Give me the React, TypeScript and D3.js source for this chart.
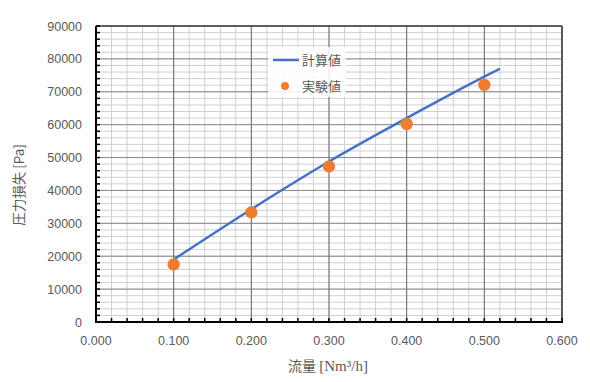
import React from "react";
import * as d3 from "d3";

const calcX = [0.1, 0.2, 0.3, 0.4, 0.5, 0.52];
const calcY = [19000, 34300, 48800, 62000, 74600, 77000];
const expX = [0.1, 0.2, 0.3, 0.4, 0.5];
const expY = [17500, 33300, 47300, 60200, 72100];
const xTicks = [0, 0.1, 0.2, 0.3, 0.4, 0.5, 0.6];
const yTicks = [0, 10000, 20000, 30000, 40000, 50000, 60000, 70000, 80000, 90000];
const legendLabels = ["計算値", "実験値"];

const W = 590, H = 382;
const m = { left: 96, right: 562, top: 26, bottom: 322 };

export default function App() {
  const x = d3.scaleLinear().domain([0, 0.6]).range([m.left, m.right]);
  const y = d3.scaleLinear().domain([0, 90000]).range([m.bottom, m.top]);
  const minorX = d3.range(0, 0.6001, 0.02);
  const minorY = d3.range(0, 90001, 2000);
  const line = d3.line<number>().x((_, i) => x(calcX[i])).y((d) => y(d)).curve(d3.curveMonotoneX);
  const gray = "#595959";
  const font = "'Liberation Sans', Arial, sans-serif";
  const jp = "'Noto Sans CJK JP', sans-serif";
  return (
    <svg width={W} height={H} style={{ position: "absolute", left: 0, top: 0 }}>
      <rect width={W} height={H} fill="#fff" />
      {minorX.map((v, i) => (
        <line key={"mx" + i} x1={x(v)} x2={x(v)} y1={m.top} y2={m.bottom} stroke="#d0d0d0" strokeWidth={1} />
      ))}
      {minorY.map((v, i) => (
        <line key={"my" + i} x1={m.left} x2={m.right} y1={y(v)} y2={y(v)} stroke="#d0d0d0" strokeWidth={1} />
      ))}
      {yTicks.map((v) => (
        <line key={"gy" + v} x1={m.left} x2={m.right} y1={y(v)} y2={y(v)} stroke="#8a8a8a" strokeWidth={1} />
      ))}
      {xTicks.map((v) => (
        <line key={"gx" + v} x1={x(v)} x2={x(v)} y1={m.top} y2={m.bottom} stroke="#6a6a6a" strokeWidth={1} />
      ))}
      <rect x={268} y={47} width={78} height={50} fill="#fff" opacity={0.85} />
      <line x1={m.left} x2={m.right} y1={m.top} y2={m.top} stroke="#404040" strokeWidth={1.5} />
      <line x1={m.right} x2={m.right} y1={m.top} y2={m.bottom} stroke="#404040" strokeWidth={1.5} />
      {minorY.map((v, i) => (
        <line key={"ty" + i} x1={m.left} x2={m.left + 4} y1={y(v)} y2={y(v)} stroke="#000" strokeWidth={1.5} />
      ))}
      {minorX.map((v, i) => (
        <line key={"tx" + i} x1={x(v)} x2={x(v)} y1={m.bottom} y2={m.bottom - 4} stroke="#000" strokeWidth={1.5} />
      ))}
      <line x1={m.left} x2={m.left} y1={m.top} y2={m.bottom + 1} stroke="#000" strokeWidth={2} />
      <line x1={m.left - 1} x2={m.right + 1} y1={m.bottom} y2={m.bottom} stroke="#000" strokeWidth={2} />
      <path d={line(calcY) || ""} fill="none" stroke="#4472C4" strokeWidth={2.5} />
      {expY.map((v, i) => (
        <circle key={"e" + i} cx={x(expX[i])} cy={y(v)} r={6.2} fill="#ED7D31" />
      ))}
      {yTicks.map((v) => (
        <text key={"yl" + v} x={82} y={y(v) + 4.5} textAnchor="end" fontSize={12.5} fill={gray} fontFamily={font}>
          {v}
        </text>
      ))}
      {xTicks.map((v) => (
        <text key={"xl" + v} x={x(v)} y={345} textAnchor="middle" fontSize={12.5} fill={gray} fontFamily={font}>
          {v.toFixed(3)}
        </text>
      ))}
      <line x1={273} x2={299} y1={60} y2={60} stroke="#4472C4" strokeWidth={2.5} />
      <text x={302} y={65} fontSize={13} fill={gray} fontFamily={jp}>{legendLabels[0]}</text>
      <circle cx={285} cy={86} r={4} fill="#ED7D31" />
      <text x={302} y={91} fontSize={13} fill={gray} fontFamily={jp}>{legendLabels[1]}</text>
      <text x={328} y={371} textAnchor="middle" fontSize={14} fill={gray} fontFamily={jp}>
        流量 <tspan fontFamily="'Liberation Serif', serif" fontSize={15}>[Nm³/h]</tspan>
      </text>
      <text transform="translate(24, 185) rotate(-90)" textAnchor="middle" fontSize={13.5} fill={gray} fontFamily={jp}>
        圧力損失 [Pa]
      </text>
    </svg>
  );
}
